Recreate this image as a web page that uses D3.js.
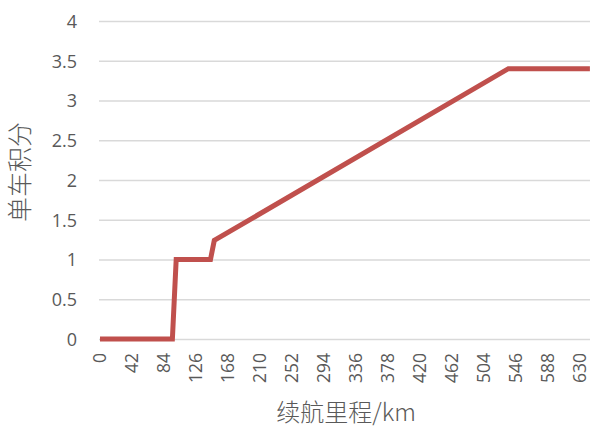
<!DOCTYPE html>
<html>
<head>
<meta charset="utf-8">
<script src="https://cdn.jsdelivr.net/npm/d3@7"></script>
<style>
  html, body { margin: 0; padding: 0; background: #fff; }
  svg { display: block; }
</style>
</head>
<body>
<svg id="chart" width="590" height="428"></svg>
<script>
// Range (km) and single-vehicle points at each breakpoint of the curve
const rangeKm = [0, 95, 100, 145, 150, 536, 643];
const points = [0, 0, 1, 1, 1.24, 3.4, 3.4];

// Axis tick labels
const xTicks = [0, 42, 84, 126, 168, 210, 252, 294, 336, 378, 420, 462, 504, 546, 588, 630];
const yTicks = [0, 0.5, 1, 1.5, 2, 2.5, 3, 3.5, 4];

const xTitle = "续航里程/km";
const yTitle = "单车积分";

const svg = d3.select("#chart");
const plot = { left: 99, right: 590, top: 21, bottom: 339 };

const x = d3.scaleLinear().domain([0, 630]).range([100, 580]);
const y = d3.scaleLinear().domain([0, 4]).range([plot.bottom, plot.top]);

const numFont = "'Open Sans', 'Liberation Sans', sans-serif";
const cjkFont = "'Noto Sans CJK SC', sans-serif";
const textColor = "#595959";

// Horizontal gridlines with left-side value labels
const yAxis = d3.axisLeft(y).tickValues(yTicks).tickSize(-(plot.right - plot.left)).tickPadding(0)
  .tickFormat(d3.format("~g"));
const gy = svg.append("g").attr("transform", `translate(${plot.left},0)`).call(yAxis);
gy.select(".domain").remove();
gy.selectAll(".tick line").attr("stroke", "#d9d9d9").attr("stroke-width", 1.3);
gy.selectAll(".tick text")
  .attr("x", -22)
  .attr("dy", "0.36em")
  .attr("fill", textColor)
  .style("font-family", numFont)
  .style("font-size", "18px");

// Rotated category labels along the bottom
const xAxis = d3.axisBottom(x).tickValues(xTicks).tickSize(0).tickFormat(d3.format("d"));
const gx = svg.append("g").attr("transform", `translate(0,${plot.bottom})`).call(xAxis);
gx.select(".domain").remove();
gx.selectAll(".tick text")
  .attr("transform", "rotate(-90)")
  .attr("x", -14)
  .attr("y", 0)
  .attr("dy", "0.3em")
  .attr("text-anchor", "end")
  .attr("fill", textColor)
  .style("font-family", numFont)
  .style("font-size", "17.5px");

// Points curve
const line = d3.line().x((d, i) => x(rangeKm[i])).y(d => y(d));
svg.append("path")
  .datum(points)
  .attr("d", line)
  .attr("fill", "none")
  .attr("stroke", "#c0504d")
  .attr("stroke-width", 5)
  .attr("stroke-linejoin", "miter")
  .attr("stroke-linecap", "butt");

// Axis titles
svg.append("text")
  .attr("x", 346).attr("y", 421)
  .attr("text-anchor", "middle")
  .attr("fill", textColor)
  .style("font-family", cjkFont)
  .style("font-weight", 300)
  .style("font-size", "24px")
  .text(xTitle);

svg.append("text")
  .attr("transform", "translate(29,172) rotate(-90)")
  .attr("text-anchor", "middle")
  .attr("fill", textColor)
  .style("font-family", cjkFont)
  .style("font-weight", 300)
  .style("font-size", "25px")
  .text(yTitle);
</script>
</body>
</html>
